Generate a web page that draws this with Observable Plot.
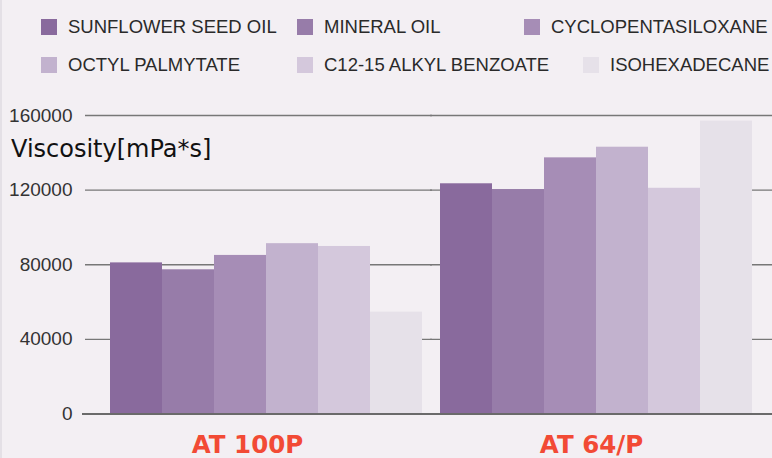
<!DOCTYPE html>
<html>
<head>
<meta charset="utf-8">
<script src="https://cdn.jsdelivr.net/npm/d3@7"></script>
<script src="https://cdn.jsdelivr.net/npm/@observablehq/plot@0.6"></script>
<style>
  html, body { margin: 0; padding: 0; background: #f3eff3; }
  body { width: 772px; height: 458px; overflow: hidden; position: relative; font-family: "Liberation Sans", Arial, sans-serif; }
  #frame { position: absolute; left: 0; top: 0; width: 770px; height: 458px; border-left: 2px solid #e4e0e6; }
  #legend { position: relative; height: 95px; }
  .item { position: absolute; display: flex; align-items: center; font-size: 18.5px; color: #2a2a2a; white-space: nowrap; }
  .sw { width: 16px; height: 16px; margin-right: 11px; }
  #ylabel { position: absolute; left: 11px; top: 135px; font-family: "DejaVu Sans", sans-serif; font-size: 24px; color: #111; }
  #chart { position: absolute; left: 0; top: 95px; }
</style>
</head>
<body>
<div id="frame"></div>
<div id="legend"></div>
<div id="chart"></div>
<div id="ylabel">Viscosity[mPa*s]</div>
<script>
// ---- data ----
const groups = ["AT 100P", "AT 64/P"];
const series = ["SUNFLOWER SEED OIL", "MINERAL OIL", "CYCLOPENTASILOXANE", "OCTYL PALMYTATE", "C12-15 ALKYL BENZOATE", "ISOHEXADECANE"];
const valuesAT100P = [81000, 77300, 85000, 91300, 89800, 54600];
const valuesAT64P = [123400, 120300, 137300, 143000, 121000, 157000];
const yTicks = [0, 40000, 80000, 120000, 160000];

// ---- style ----
const colors = ["#896a9d", "#977ca9", "#a68db6", "#c2b2ce", "#d4c8dc", "#e6e1e9"];
const legendPos = [[41, 16], [297, 16], [524, 16], [41, 54], [297, 54], [583, 54]];

const rows = [];
series.forEach((s, i) => rows.push({group: groups[0], series: s, value: valuesAT100P[i]}));
series.forEach((s, i) => rows.push({group: groups[1], series: s, value: valuesAT64P[i]}));

// legend
const legend = document.getElementById("legend");
series.forEach((s, i) => {
  const d = document.createElement("div");
  d.className = "item";
  d.style.left = legendPos[i][0] + "px";
  d.style.top = legendPos[i][1] + "px";
  d.innerHTML = `<span class="sw" style="background:${colors[i]}"></span><span>${s}</span>`;
  legend.appendChild(d);
});

const red = "#f24a35";
const grid = yTicks.filter(t => t > 0);
const first = () => groups[0];
const chart = Plot.plot({
  width: 772,
  height: 363,
  marginLeft: 92,
  marginRight: 2,
  marginTop: 20,
  marginBottom: 44.5,
  style: {background: "transparent", fontFamily: "Liberation Sans, Arial, sans-serif"},
  fx: {domain: groups, paddingInner: 18 / 330, paddingOuter: 18 / 330, round: false, axis: null, label: null},
  x: {domain: series, padding: 0, round: false, axis: null, label: null},
  y: {domain: [0, 160000], axis: null, label: null},
  color: {domain: series, range: colors},
  marks: [
    Plot.ruleY(grid, {fx: first, y: d => d, stroke: "#777", strokeWidth: 1.4, insetLeft: -25, insetRight: -10}),
    Plot.ruleY(grid, {fx: () => groups[1], y: d => d, stroke: "#777", strokeWidth: 1.4, insetLeft: -10, insetRight: -21}),
    Plot.barY(rows, {fx: "group", x: "series", y: "value", fill: "series"}),
    Plot.ruleY([0], {fx: first, y: d => d, stroke: "#6a6a6a", strokeWidth: 2, insetLeft: -28, insetRight: -10}),
    Plot.ruleY([0], {fx: () => groups[1], y: d => d, stroke: "#6a6a6a", strokeWidth: 2, insetLeft: -10, insetRight: -21}),
    Plot.text(yTicks, {fx: first, y: d => d, text: d => String(d), frameAnchor: "left", textAnchor: "end", dx: -38, fontSize: 19, fill: "#333"}),
    Plot.text([groups[0]], {fx: d => d, text: d => d, frameAnchor: "bottom", lineAnchor: "top", dy: 21.5, dx: -19, fontSize: 24.5, fontFamily: "DejaVu Sans", fontWeight: "bold", fill: red}),
    Plot.text([groups[1]], {fx: d => d, text: d => d, frameAnchor: "bottom", lineAnchor: "top", dy: 21.5, dx: -5, fontSize: 24.5, fontFamily: "DejaVu Sans", fontWeight: "bold", fill: red})
  ]
});
document.getElementById("chart").appendChild(chart);
</script>
</body>
</html>
